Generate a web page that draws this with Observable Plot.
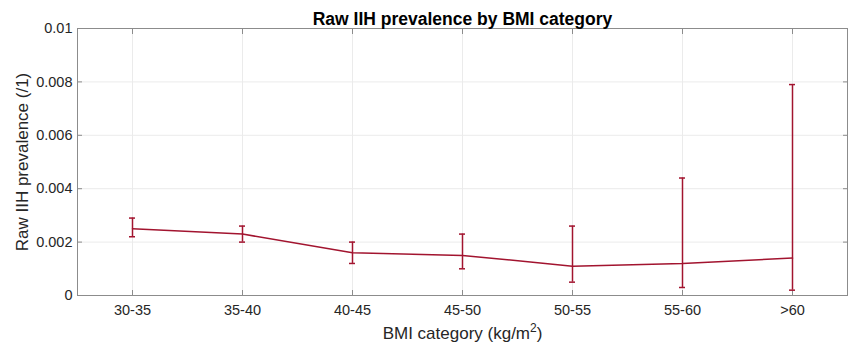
<!DOCTYPE html>
<html><head><meta charset="utf-8">
<script src="https://cdn.jsdelivr.net/npm/d3@7"></script>
<script src="https://cdn.jsdelivr.net/npm/@observablehq/plot@0.6"></script>
<style>body{margin:0;background:#fff} svg{display:block}</style>
</head><body><div id="chart"></div>
<script>
const categories = ["30-35", "35-40", "40-45", "45-50", "50-55", "55-60", ">60"];
const prevalence = [0.0025, 0.0023, 0.0016, 0.0015, 0.0011, 0.0012, 0.0014];
const lower = [0.0022, 0.0020, 0.0012, 0.0010, 0.0005, 0.0003, 0.0002];
const upper = [0.0029, 0.0026, 0.0020, 0.0023, 0.0026, 0.0044, 0.0079];
const yTicks = [0, 0.002, 0.004, 0.006, 0.008, 0.01];
const yTickLabels = ["0", "0.002", "0.004", "0.006", "0.008", "0.01"];
const title = "Raw IIH prevalence by BMI category";
const xLabel = "BMI category (kg/m2)";
const yLabel = "Raw IIH prevalence (/1)";

const data = categories.map((c, i) => ({cat: c, v: prevalence[i], lo: lower[i], hi: upper[i]}));

const color = "#A2142F";
const textColor = "#262626";
const axisColor = "#8c8c8c";
const gridColor = "#ebebeb";
const font = "'Liberation Sans', Arial, Helvetica, sans-serif";

const chart = Plot.plot({
  width: 849, height: 347,
  marginLeft: 77, marginRight: 2, marginTop: 28, marginBottom: 52,
  style: {fontFamily: font, fontSize: "14.5px", color: textColor, background: "#fff"},
  x: {type: "point", domain: categories, padding: 0.5},
  y: {domain: [0, 0.01]},
  marks: [
    Plot.gridX({stroke: gridColor, strokeOpacity: 1}),
    Plot.gridY(yTicks, {stroke: gridColor, strokeOpacity: 1}),
    Plot.frame({stroke: axisColor}),
    Plot.axisX({anchor: "bottom", tickSize: -5, tickPadding: 14, stroke: axisColor, fill: textColor, label: null}),
    Plot.axisX({anchor: "top", tickSize: -5, stroke: axisColor, tickFormat: () => "", label: null}),
    Plot.axisY(yTicks, {anchor: "left", tickSize: -5, tickPadding: 10, stroke: axisColor, fill: textColor,
      tickFormat: d => yTickLabels[yTicks.indexOf(d)], label: null}),
    Plot.axisY(yTicks, {anchor: "right", tickSize: -5, stroke: axisColor, tickFormat: () => "", label: null}),
    Plot.line(data, {x: "cat", y: "v", stroke: color, strokeWidth: 1.5}),
    Plot.ruleX(data, {x: "cat", y1: "lo", y2: "hi", stroke: color, strokeWidth: 1.5}),
    Plot.ruleY(data, {x1: "cat", x2: "cat", y: "hi", insetLeft: -3, insetRight: -3, stroke: color, strokeWidth: 1.5}),
    Plot.ruleY(data, {x1: "cat", x2: "cat", y: "lo", insetLeft: -3, insetRight: -3, stroke: color, strokeWidth: 1.5}),
    Plot.text([title], {text: d => d, frameAnchor: "top", lineAnchor: "middle", dy: -9, fontWeight: "bold", fontSize: 17.5, fill: "#000"}),
    Plot.text([yLabel], {text: d => d, frameAnchor: "left", textAnchor: "middle", lineAnchor: "middle", rotate: -90, dx: -55, fontSize: 17, fill: textColor}),
    Plot.text([xLabel], {text: d => d, frameAnchor: "bottom", lineAnchor: "middle", dy: 38, fontSize: 17, fill: textColor})
  ]
});

d3.select(chart).selectAll("text").filter(function() { return this.textContent === xLabel; })
  .each(function() {
    const t = d3.select(this);
    t.text(null);
    t.append("tspan").text("BMI category (kg/m");
    t.append("tspan").attr("dy", -7).attr("font-size", 12).text("2");
    t.append("tspan").attr("dy", 7).text(")");
  });

document.getElementById("chart").appendChild(chart);
</script>
</body></html>
